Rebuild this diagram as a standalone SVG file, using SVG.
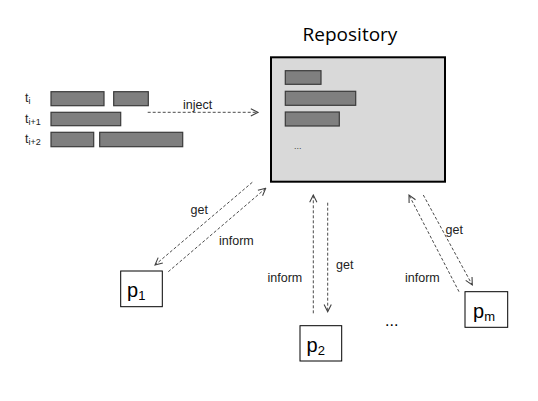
<svg xmlns="http://www.w3.org/2000/svg" width="538" height="401" viewBox="0 0 538 401">
<defs>
<marker id="ah" viewBox="0 0 10 10" refX="9" refY="5" markerWidth="9" markerHeight="9" markerUnits="userSpaceOnUse" orient="auto">
<path d="M1,1 L9,5 L1,9" fill="none" stroke="#404040" stroke-width="1.2"/>
</marker>
<style>
.bar{fill:#7f7f7f;stroke:#3a3a3a;stroke-width:1.2}
.lbl{font-family:"Liberation Sans",Arial,sans-serif;font-size:12.5px;fill:#222}
.conn{fill:none;stroke:#4a4a4a;stroke-width:1;stroke-dasharray:3,2;marker-end:url(#ah)}
.pbox{fill:#fff;stroke:#000;stroke-width:1}
.ptxt{font-family:"Liberation Sans",Arial,sans-serif;font-size:20px;fill:#000}
</style>
</defs>
<rect width="538" height="401" fill="#fff"/>
<g id="tasks">
<text class="lbl" x="25" y="101.5" font-size="13">t<tspan font-size="9" dy="2">i</tspan></text>
<text class="lbl" x="25" y="122.5" font-size="13">t<tspan font-size="9" dy="2">i+1</tspan></text>
<text class="lbl" x="25" y="143" font-size="13">t<tspan font-size="9" dy="2">i+2</tspan></text>
<rect class="bar" x="51" y="91.7" width="53" height="14"/>
<rect class="bar" x="113.7" y="91.7" width="34.6" height="14"/>
<rect class="bar" x="51" y="112.3" width="69.7" height="13.4"/>
<rect class="bar" x="51" y="132.3" width="42.7" height="14.4"/>
<rect class="bar" x="99.7" y="132.3" width="83" height="14.4"/>
</g>
<g id="repository">
<text x="350" y="41" text-anchor="middle" font-family="'Open Sans','Liberation Sans',sans-serif" font-size="19" fill="#000">Repository</text>
<rect x="271" y="57.3" width="174" height="124.4" fill="#d9d9d9" stroke="#000" stroke-width="2"/>
<rect class="bar" x="285.3" y="70.7" width="35.7" height="13.6"/>
<rect class="bar" x="285.3" y="91.3" width="70.4" height="14"/>
<rect class="bar" x="285.3" y="112" width="54" height="14"/>
<text x="294" y="148.5" font-family="'Liberation Sans',sans-serif" font-size="9" fill="#444">...</text>
</g>
<g id="p1">
<rect class="pbox" x="120.7" y="271" width="41.6" height="35.7"/>
<text class="ptxt" x="127" y="297">p<tspan font-size="13" dy="3">1</tspan></text>
</g>
<g id="p2">
<rect class="pbox" x="300" y="325.7" width="41.7" height="35.3"/>
<text class="ptxt" x="306.5" y="352">p<tspan font-size="13" dy="3">2</tspan></text>
</g>
<g id="pm">
<rect class="pbox" x="465" y="291.7" width="42.7" height="35.6"/>
<text class="ptxt" x="473" y="318">p<tspan font-size="13" dy="3">m</tspan></text>
</g>
<text x="385" y="326" font-family="'Liberation Sans',sans-serif" font-size="16" fill="#000">...</text>
<g id="connectors">
<line class="conn" x1="147.7" y1="112.3" x2="258" y2="112.3"/>
<line class="conn" x1="252.3" y1="182.3" x2="155" y2="265"/>
<line class="conn" x1="168.3" y1="271.7" x2="265.7" y2="188.3"/>
<line class="conn" x1="313.3" y1="313.3" x2="313.3" y2="195"/>
<line class="conn" x1="327.7" y1="202.7" x2="327.7" y2="311.7"/>
<line class="conn" x1="423.3" y1="195" x2="472.3" y2="285"/>
<line class="conn" x1="459" y1="291.7" x2="409" y2="195"/>
<text class="lbl" x="183" y="108.5">inject</text>
<text class="lbl" x="190.5" y="213.5">get</text>
<text class="lbl" x="219" y="245">inform</text>
<text class="lbl" x="267.5" y="282">inform</text>
<text class="lbl" x="336" y="268.5">get</text>
<text class="lbl" x="445.5" y="233.5">get</text>
<text class="lbl" x="405" y="282">inform</text>
</g>
</svg>
